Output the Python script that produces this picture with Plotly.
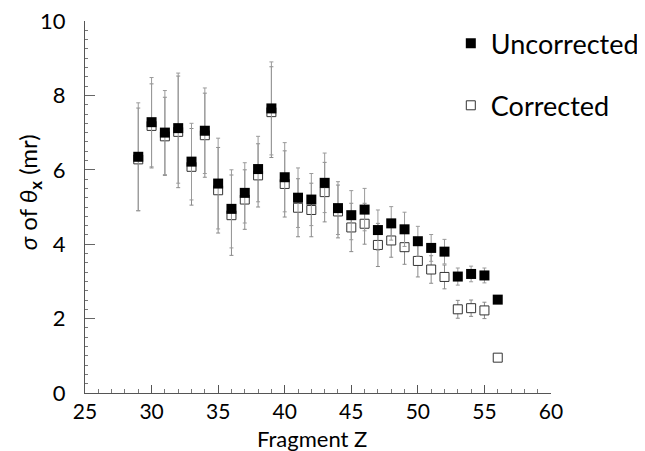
import plotly.graph_objects as go

fragment_z = [29, 30, 31, 32, 33, 34, 35, 36, 37, 38, 39, 40, 41, 42, 43, 44, 45, 46, 47, 48,
              49, 50, 51, 52, 53, 54, 55, 56]
uncorrected = [6.35, 7.28, 7.00, 7.12, 6.22, 7.05, 5.63, 4.95, 5.38, 6.02, 7.65, 5.80, 5.25, 5.20,
               5.65, 4.97, 4.78, 4.93, 4.38, 4.56, 4.40, 4.08, 3.90, 3.80, 3.13, 3.20, 3.16, 2.51]
uncorrected_err = [1.45, 1.20, 1.13, 1.48, 1.03, 1.15, 1.22, 1.05, 0.81, 0.88, 1.25, 0.93, 0.80, 0.70,
                   0.80, 0.71, 0.66, 0.57, 0.54, 0.45, 0.46, 0.40, 0.36, 0.33, 0.23, 0.21, 0.20, 0.03]
corrected = [6.28, 7.18, 6.90, 7.02, 6.08, 6.93, 5.45, 4.78, 5.20, 5.85, 7.55, 5.62, 4.98, 4.92,
             5.40, 4.88, 4.45, 4.55, 3.98, 4.10, 3.92, 3.55, 3.32, 3.12, 2.25, 2.28, 2.22, 0.95]
corrected_err = [1.38, 1.13, 1.05, 1.50, 1.03, 1.13, 1.15, 1.08, 0.80, 0.85, 1.22, 0.89, 0.78, 0.72,
                 0.80, 0.71, 0.65, 0.55, 0.58, 0.45, 0.46, 0.43, 0.37, 0.32, 0.24, 0.22, 0.22, 0.05]

x_ticks = [25, 30, 35, 40, 45, 50, 55, 60]
y_ticks = [0, 2, 4, 6, 8, 10]

FONT = "Lato"

fig = go.Figure()

fig.add_trace(go.Scatter(
    x=fragment_z, y=corrected, mode="markers", name="Corrected",
    legendgroup="c", legendrank=2,
    marker=dict(symbol="square", size=9, color="white",
                line=dict(color="#333333", width=1)),
    error_y=dict(type="data", array=corrected_err, color="#8a8a8a", thickness=1, width=2),
))
fig.add_trace(go.Scatter(
    x=fragment_z, y=uncorrected, mode="markers", name="Uncorrected",
    legendgroup="u", legendrank=1,
    marker=dict(symbol="square", size=10, color="black",
                line=dict(color="black", width=0)),
    error_y=dict(type="data", array=uncorrected_err, color="#9a9a9a", thickness=1, width=2),
))

# page body adds an 8px offset; the figure is sized to fit the 645x451 window
fig.update_layout(
    width=637, height=443,
    margin=dict(l=77, r=94, t=13, b=58, autoexpand=False),
    paper_bgcolor="white", plot_bgcolor="white",
    font=dict(family=FONT, color="black"),
    showlegend=True,
    legend=dict(x=0.785, y=1.005, xanchor="left", yanchor="top",
                traceorder="grouped", tracegroupgap=24,
                font=dict(size=27, family=FONT, color="black"),
                bgcolor="rgba(0,0,0,0)", itemwidth=30),
    annotations=[
        dict(text="<i>σ</i> of <i>θ</i><sub><b>x</b></sub> (mr)", xref="paper", yref="paper",
             x=-0.12, y=0.54, xanchor="center", yanchor="middle", textangle=-90,
             showarrow=False, font=dict(size=24, family=FONT, color="black")),
        dict(text="Fragment Z", xref="paper", yref="paper",
             x=0.487, y=-0.121, xanchor="center", yanchor="middle",
             showarrow=False, font=dict(size=22, family=FONT, color="black")),
    ],
)

fig.update_xaxes(
    range=[25, 60], tickvals=x_ticks, ticktext=[str(v) for v in x_ticks],
    automargin=False, ticklabeloverflow="allow",
    showgrid=False, zeroline=False, showline=True, linecolor="#555555", linewidth=1,
    ticks="inside", ticklen=8, tickcolor="#555555", tickwidth=1,
    minor=dict(dtick=1, ticks="inside", ticklen=4, tickcolor="#777777", showgrid=False),
    tickfont=dict(size=21, family=FONT), ticklabelstandoff=0,
)
fig.update_yaxes(
    range=[0, 10], tickvals=y_ticks, ticktext=[str(v) for v in y_ticks],
    automargin=False, ticklabeloverflow="allow",
    showgrid=False, zeroline=False, showline=True, linecolor="#555555", linewidth=1,
    ticks="inside", ticklen=10, tickcolor="#666666", tickwidth=1,
    minor=dict(dtick=0.25, ticks="inside", ticklen=3, tickcolor="#777777", showgrid=False),
    tickfont=dict(size=22, family=FONT), ticklabelstandoff=14,
)

fig.write_html("out.html")
